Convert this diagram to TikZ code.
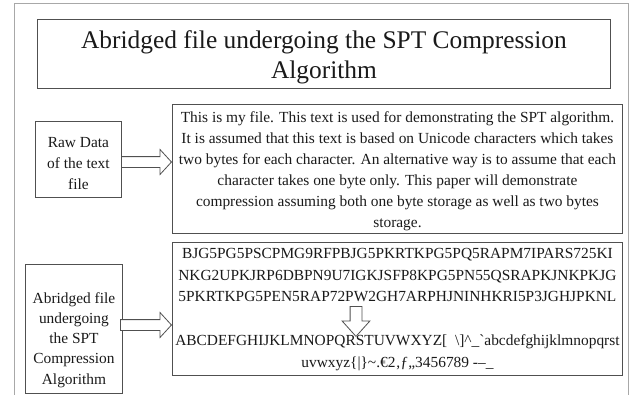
\documentclass[tikz,border=0pt]{standalone}
\usepackage{fontspec}
\setmainfont{Liberation Serif}
\usetikzlibrary{shapes.arrows,calc}
\definecolor{pageline}{HTML}{A8A8A8}
\definecolor{edge}{HTML}{505050}
\definecolor{ink}{HTML}{1A1A1A}
% zero-width strut fixing the height of the first line of a node
\newcommand\firststrut{\rule{0pt}{.8em}}
\begin{document}
\begin{tikzpicture}[x=1pt,y=-1pt,
  panel/.style={draw=edge, line width=0.9pt, fill=white, inner sep=0pt, anchor=north west},
  body/.style={font=\fontsize{15.4}{21}\selectfont, text=ink, align=center, inner sep=0pt, anchor=north},
  blockarr/.style={single arrow, draw=edge, fill=white, line width=0.8pt, inner sep=5pt,
    single arrow head indent=0pt, anchor=tip},
]
\clip (0,0) rectangle (635,394);
\fill[white] (0,0) rectangle (635,394);
% page frame, open at the bottom
\draw[pageline, line width=0.8pt] (14,400) -- (14,3) -- (628,3) -- (628,400);

% heading
\node[panel, minimum width=573, minimum height=69] (title) at (37,19) {};
\node[body, font=\fontsize{25.4}{30}\selectfont] (titletext) at (title.north |- 0,27.7)
  {\firststrut Abridged file undergoing the SPT Compression\\Algorithm};

% raw data row
\node[panel, minimum width=86, minimum height=76] (raw) at (35,121) {};
\node[body] (rawtext) at (raw.north |- 0,134.7) {\firststrut Raw Data\\of the text\\file};
\node[panel, minimum width=450, minimum height=129] (src) at (172,104) {};
\node[body] (srctext) at (src.north |- 0,109.7) {\firststrut This is my file. This text is used for demonstrating the SPT algorithm.\\
It is assumed that this text is based on Unicode characters which takes\\
two bytes for each character. An alternative way is to assume that each\\
character takes one byte only. This paper will demonstrate\\
compression assuming both one byte storage as well as two bytes\\
storage.};
\node[blockarr, minimum height=50, single arrow head extend=7pt,
  single arrow tip angle=95] (a1) at (src.west |- 0,162) {};

% compressed row
\node[panel, minimum width=97, minimum height=129] (abr) at (25,264) {};
\node[body, font=\fontsize{15.4}{20.2}\selectfont] (abrtext) at (abr.north |- 0,290.7)
  {\firststrut Abridged file\\undergoing\\the SPT\\Compression\\Algorithm};
\node[panel, minimum width=450, minimum height=133] (out) at (172,242) {};
\node[body, font=\fontsize{15.4}{21.8}\selectfont] (outtext) at (out.north |- 0,245.7)
  {\firststrut BJG5PG5PSCPMG9RFPBJG5PKRTKPG5PQ5RAPM7IPARS725KI\\
NKG2UPKJRP6DBPN9U7IGKJSFP8KPG5PN55QSRAPKJNKPKJG\\
5PKRTKPG5PEN5RAP72PW2GH7ARPHJNINHKRI5P3JGHJPKNL\\
\mbox{}\\
ABCDEFGHIJKLMNOPQRSTUVWXYZ[\ \ \textbackslash]\textasciicircum\_\textasciigrave abcdefghijklmnopqrst\\
uvwxyz\{|\}\textasciitilde.€2‚ƒ„3456789 -–\_};
\node[blockarr, minimum height=51, single arrow head extend=7pt,
  single arrow tip angle=95] (a2) at (out.west |- 0,325) {};
\node[blockarr, inner sep=5.5pt, minimum height=30, single arrow head extend=8pt,
  single arrow tip angle=84, shape border rotate=270] (a3) at (356,337) {};
\end{tikzpicture}
\end{document}
